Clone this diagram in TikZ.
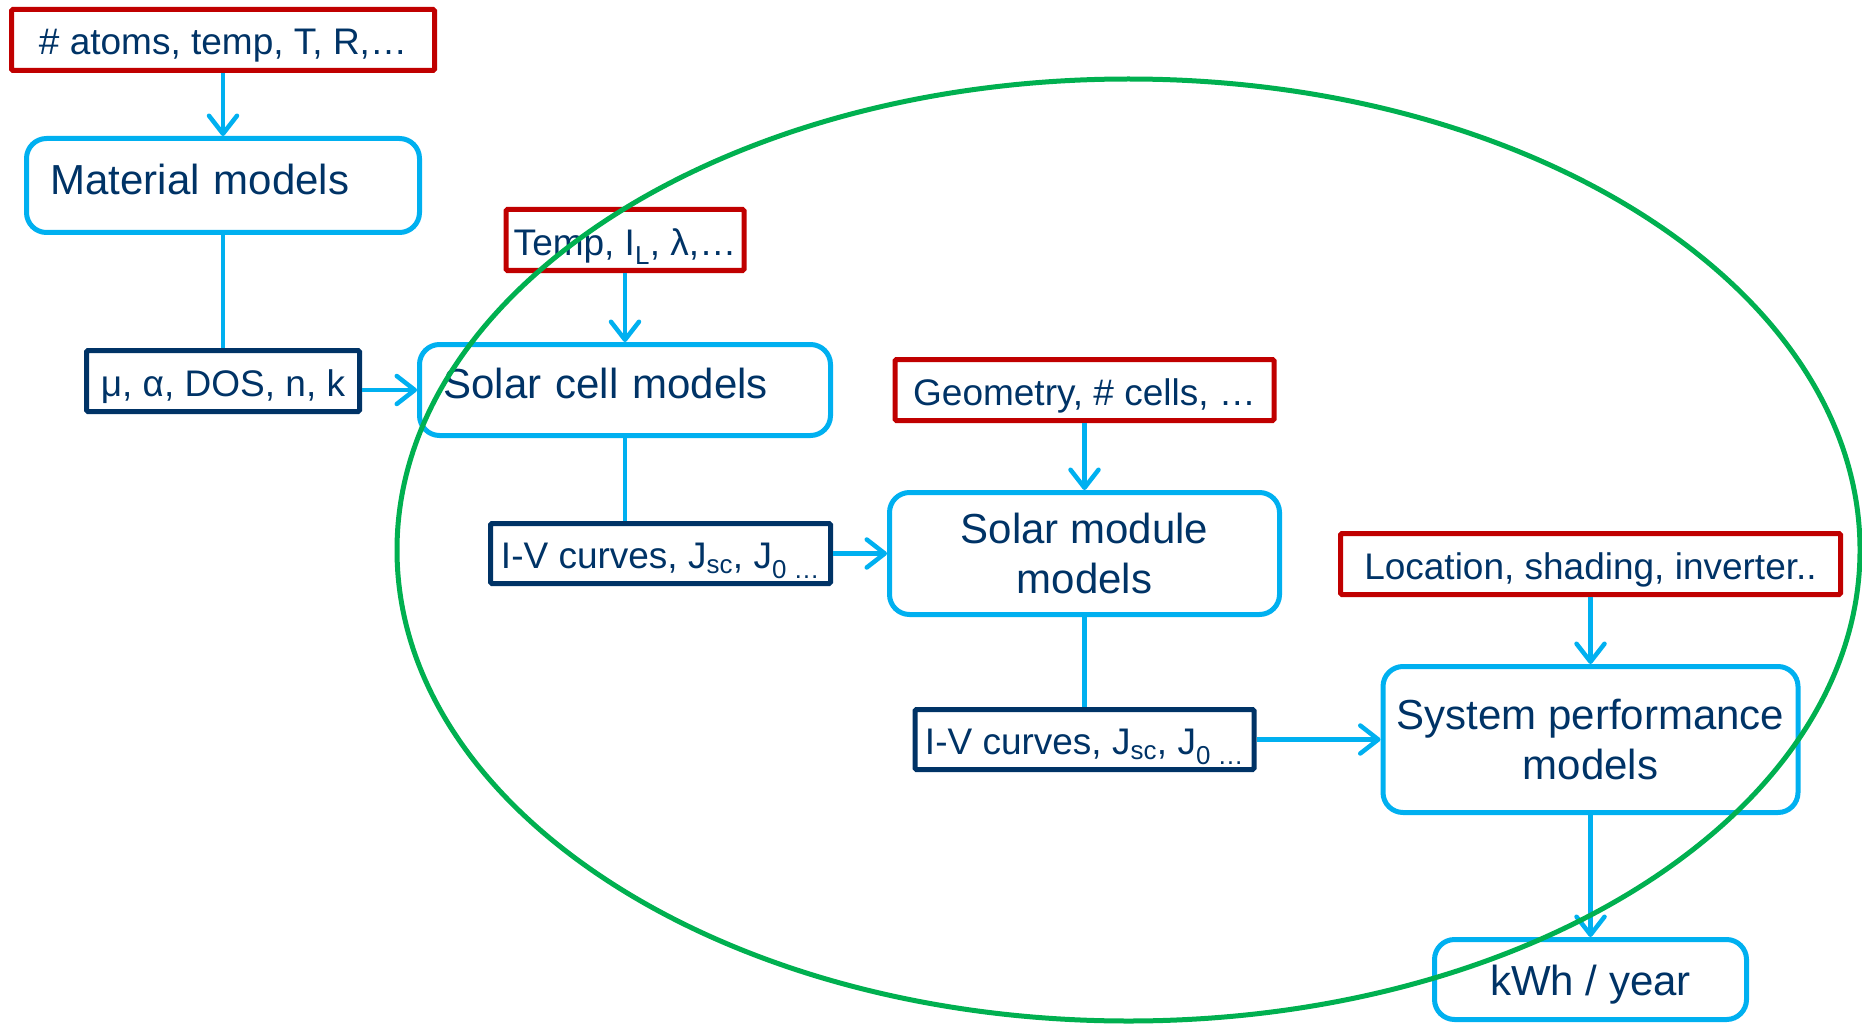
\documentclass[tikz,border=0pt]{standalone}
\usepackage{fontspec}
\setmainfont{Liberation Sans}
\usetikzlibrary{arrows.meta,positioning}
\definecolor{boxred}{HTML}{C00000}
\definecolor{flowblue}{HTML}{00B0F0}
\definecolor{inknavy}{HTML}{003366}
\definecolor{loopgreen}{HTML}{00B050}
\begin{document}
\begin{tikzpicture}[x=1pt,y=1pt,text=inknavy,
  small/.style={font=\fontsize{37}{44}\selectfont,text height=30pt,text depth=0pt},
  big/.style={font=\fontsize{42}{50}\selectfont},
  inbox/.style={small,draw=boxred,line width=5pt,rounded corners=1.5pt,inner xsep=2pt,inner ysep=2pt},
  outbox/.style={small,draw=inknavy,line width=5pt,rounded corners=1.5pt,inner xsep=2pt,inner ysep=2pt},
  model/.style={big,draw=flowblue,line width=5pt,rounded corners=20pt,inner sep=2pt,align=center},
  flow/.style={draw=flowblue,line width=4.5pt},
  feed/.style={flow,-{Straight Barb[length=18pt,width=28pt,round]}}]
\useasboundingbox (0,0) rectangle (1862,-1024);
\node[inbox,minimum width=423pt,minimum height=61pt] (atoms) at (223,-40) {\# atoms, temp, T, R,…};
\node[model,align=left,text width=345pt,inner xsep=24pt,text depth=12pt,minimum height=94pt,below=63pt of atoms] (material) {Material models};
\node[outbox,minimum width=273pt,minimum height=61pt,below=113pt of material] (props) {μ, α, DOS, n, k};
\node[model,align=left,text width=363pt,inner xsep=24pt,text depth=14pt,minimum height=91pt] (cell) at (625,-390) {Solar cell models};
\node[inbox,minimum width=238pt,minimum height=61pt,above=69pt of cell] (cellin) {Temp, I\textsubscript{L}, λ,…};
\node[outbox,minimum width=340pt,minimum height=60pt] (cellout) at (660.5,-553.5) {I-V curves, J\textsubscript{sc}, J\textsubscript{0 …}};
\node[model,minimum width=390pt,minimum height=122pt,right=54pt of cellout] (module) {Solar module\\models};
\node[inbox,minimum width=379pt,minimum height=61pt,above=67pt of module] (modin) {Geometry, \# cells, …};
\node[outbox,minimum width=339pt,minimum height=60pt,below=90pt of module] (modout) {I-V curves, J\textsubscript{sc}, J\textsubscript{0 …}};
\node[model,minimum width=415pt,minimum height=146pt,right=124pt of modout] (system) {System performance\\models};
\node[inbox,minimum width=500pt,minimum height=61pt,above=67pt of system] (sysin) {Location, shading, inverter..};
\node[model,text height=31pt,text depth=0pt,minimum width=312pt,minimum height=80pt,below=122pt of system] (yield) {kWh / year};
\draw[feed] (atoms) -- (material);
\draw[flow] (material) -- (props);
\draw[feed] (props.east |- cell.west) -- (cell.west);
\draw[feed] (cellin) -- (cell);
\draw[flow] (cell) -- (cell |- cellout.north);
\draw[feed] (cellout) -- (module);
\draw[feed] (modin) -- (module);
\draw[flow] (module) -- (modout);
\draw[feed] (modout) -- (system);
\draw[feed] (sysin) -- (system);
\draw[feed] (system) -- (yield);
\draw[loopgreen,line width=5pt] (1128.5,-550) ellipse [x radius=731.5pt,y radius=471pt];
\end{tikzpicture}
\end{document}
